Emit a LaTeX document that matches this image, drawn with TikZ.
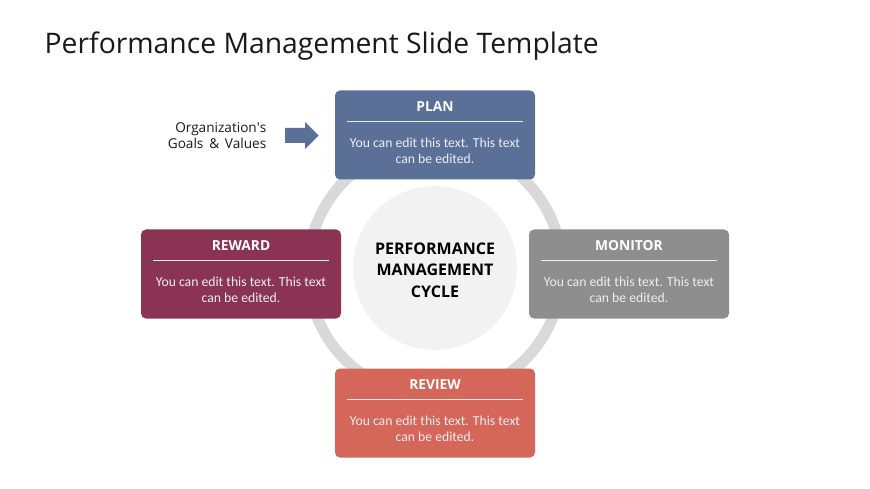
\documentclass[tikz,border=0pt]{standalone}
\usepackage{fontspec}
\setmainfont{Open Sans}
\newfontfamily\bodyfont{Carlito}
\definecolor{planC}{HTML}{5A7096}
\definecolor{rewardC}{HTML}{8A3353}
\definecolor{monitorC}{HTML}{8E8E8E}
\definecolor{reviewC}{HTML}{D5665A}
\definecolor{ringC}{HTML}{D9D9D9}
\definecolor{innerC}{HTML}{F2F2F2}
\definecolor{bodyC}{HTML}{EEEEF2}
\begin{document}
\begin{tikzpicture}[x=1pt,y=-1pt,
  cardtitle/.style={font=\fontsize{13.8}{16}\selectfont\bfseries, text=white, inner sep=0pt},
  cardbody/.style={font=\bodyfont\fontsize{13.7}{15.5}\selectfont, text=bodyC, align=center, inner sep=0pt},
  cardline/.style={draw=white!85!gray, line width=0.8pt}
]
\useasboundingbox (0,0) rectangle (870,489);
\fill[white] (0,0) rectangle (870,489);
% title
\node[anchor=west, inner sep=0pt, font=\fontsize{28.3}{31}\selectfont, text=black!90] (title) at (44.5,46) {Performance Management Slide Template};
% ring and inner circle
\draw[ringC, line width=11pt] (435,270) circle[radius=127];
\fill[innerC] (435,268) circle[radius=82];
\node[align=center, inner sep=0pt, font=\fontsize{16}{21.5}\selectfont\bfseries, text=black] (center) at (435,270) {PERFORMANCE\\MANAGEMENT\\CYCLE};
% cards
\newcommand{\card}[5]{%
  \fill[#2, rounded corners=5pt] (#3,#4) rectangle ++(200,89);
  \node[cardtitle] (#1t) at ({#3+100},{#4+16}) {#5};
  \draw[cardline] ({#3+12},{#4+31}) -- ({#3+188},{#4+31});
  \node[cardbody] (#1b) at ({#3+100},{#4+60.5}) {You can edit this text. This text\\can be edited.};
}
\card{plan}{planC}{335}{90.5}{PLAN}
\card{reward}{rewardC}{141}{229.5}{REWARD}
\card{monitor}{monitorC}{529}{229.5}{MONITOR}
\card{review}{reviewC}{335}{368.5}{REVIEW}
% arrow
\fill[planC] (285,128) -- (305,128) -- (305,122) -- (318.5,135.5) -- (305,149) -- (305,143) -- (285,143) -- cycle;
\node[anchor=east, align=right, inner sep=0pt, font=\fontsize{13.6}{16}\selectfont, text=black!90] (org) at (266.5,136) {Organization\textquotesingle s\\Goals \,\&\, Values};
\end{tikzpicture}
\end{document}
